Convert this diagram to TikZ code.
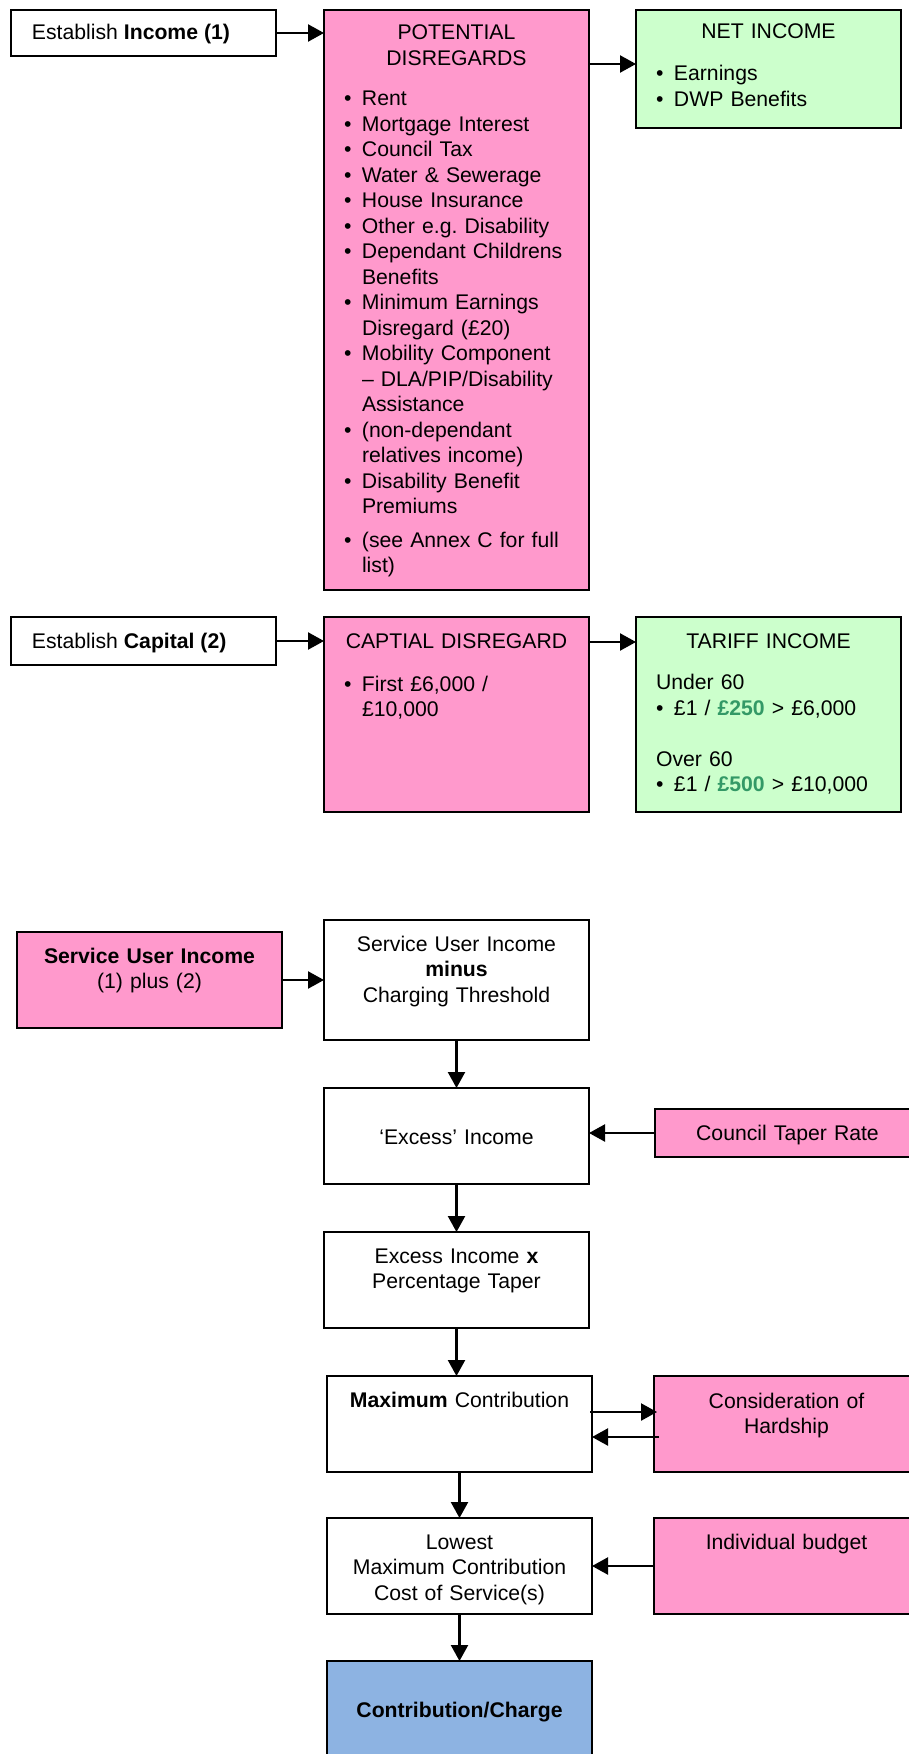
\documentclass[tikz,border=0pt]{standalone}
\usepackage{fontspec}
\setmainfont{Liberation Sans}
\usetikzlibrary{arrows.meta,calc}
\definecolor{pinkc}{HTML}{FF99CC}
\definecolor{greenc}{HTML}{CCFFCC}
\definecolor{bluec}{HTML}{8DB3E2}
\definecolor{amt}{HTML}{339966}
\frenchspacing
\newcommand{\fitem}[1]{\hangindent=9pt\hangafter=1\makebox[9pt][l]{\textbullet}#1}
\newcommand{\bitem}[1]{\par\fitem{#1}}
\begin{document}
\begin{tikzpicture}[x=0.5pt,y=-0.5pt,
  box/.style={draw=black,line width=0.9pt,rectangle,inner sep=0pt,outer sep=0pt,anchor=north west,minimum width=132.5pt},
  txt/.style={inner sep=0pt,outer sep=0pt,font=\fontsize{10.6}{12.75}\selectfont},
  ctxt/.style={txt,text width=130pt,align=center,anchor=base},
  ltxt/.style={txt,text width=125pt,align=left,anchor=base west},
  arr/.style={line width=1.15pt,-{Triangle[length=8pt,width=8.5pt]}}]
\useasboundingbox (0,0) rectangle (909,1754);
\clip (0,0) rectangle (909,1754);
\fill[white] (0,0) rectangle (909,1754);

% boxes
\node[box,minimum height=23pt] (inc) at (11,10) {};
\node[box,fill=pinkc,minimum height=290pt] (pd) at (324,10) {};
\node[box,fill=greenc,minimum height=59pt] (net) at (636,10) {};
\node[box,minimum height=24pt] (cap) at (11,617) {};
\node[box,fill=pinkc,minimum height=97.5pt] (cd) at (324,617) {};
\node[box,fill=greenc,minimum height=97.5pt] (tar) at (636,617) {};
\node[box,fill=pinkc,minimum height=48pt] (sui) at (17,932) {};
\node[box,minimum height=60pt] (suim) at (324,920) {};
\node[box,minimum height=48pt] (exc) at (324,1088) {};
\node[box,fill=pinkc,minimum height=24pt] (ctr) at (655,1109) {};
\node[box,minimum height=48pt] (exx) at (324,1232) {};
\node[box,minimum height=48pt] (max) at (327,1376) {};
\node[box,fill=pinkc,minimum height=48pt] (hard) at (654,1376) {};
\node[box,minimum height=48pt] (low) at (327,1518) {};
\node[box,fill=pinkc,minimum height=48pt] (ind) at (654,1518) {};
\node[box,fill=bluec,minimum height=50pt] (con) at (327,1661) {};

% texts
\node[txt,anchor=base west] (incT) at ($(inc.north west)+(21,30)$) {Establish \textbf{Income (1)}};
\node[ctxt] (pdT) at ($(pd.north)+(0,30)$) {POTENTIAL\\DISREGARDS};
\node[ltxt] (pdL) at ($(pd.north west)+(20,96)$) {%
\fitem{Rent}\bitem{Mortgage Interest}\bitem{Council Tax}\bitem{Water \& Sewerage}%
\bitem{House Insurance}\bitem{Other e.g. Disability}\bitem{Dependant Childrens\newline Benefits}%
\bitem{Minimum Earnings\newline Disregard (£20)}\bitem{Mobility Component\newline – DLA/PIP/Disability\newline Assistance}%
\bitem{(non-dependant\newline relatives income)}\bitem{Disability Benefit\newline Premiums}\par\vspace{4pt}%
\fitem{(see Annex C for full\newline list)}\par};
\node[ctxt] (netT) at ($(net.north)+(0,29)$) {NET INCOME};
\node[ltxt] (netL) at ($(net.north west)+(20,71)$) {\fitem{Earnings}\bitem{DWP Benefits}\par};

\node[txt,anchor=base west] (capT) at ($(cap.north west)+(21,31.5)$) {Establish \textbf{Capital (2)}};
\node[ctxt] (cdT) at ($(cd.north)+(0,31)$) {CAPTIAL DISREGARD};
\node[ltxt] (cdL) at ($(cd.north west)+(20,74)$) {\fitem{First £6,000 /\newline £10,000}\par};
\node[ctxt] (tarT) at ($(tar.north)+(0,31)$) {TARIFF INCOME};
\node[ltxt] (tarL) at ($(tar.north west)+(20,72.5)$) {Under 60%
\bitem{£1 / \textbf{\color{amt}£250} > £6,000}\par\vspace{12.75pt}%
Over 60\bitem{£1 / \textbf{\color{amt}£500} > £10,000}\par};

\node[ctxt] (suiT) at ($(sui.north)+(0,31)$) {\textbf{Service User Income}\\(1) plus (2)};
\node[ctxt] (suimT) at ($(suim.north)+(0,31)$) {Service User Income\\\textbf{minus}\\Charging Threshold};
\node[ctxt] (excT) at ($(exc.north)+(0,56)$) {‘Excess’ Income};
\node[ctxt] (ctrT) at ($(ctr.north)+(0,31)$) {Council Taper Rate};
\node[ctxt] (exxT) at ($(exx.north)+(0,31)$) {Excess Income \textbf{x}\\Percentage Taper};
\node[ctxt] (maxT) at ($(max.north)+(0,31)$) {\textbf{Maximum} Contribution};
\node[ctxt] (hardT) at ($(hard.north)+(0,32)$) {Consideration of\\Hardship};
\node[ctxt] (lowT) at ($(low.north)+(0,31)$) {Lowest\\Maximum Contribution\\Cost of Service(s)};
\node[ctxt] (indT) at ($(ind.north)+(0,31)$) {Individual budget};
\node[ctxt] (conT) at ($(con.north)+(0,56)$) {\textbf{Contribution/Charge}};

% connectors
\draw[arr] (inc.east) -- (inc.east -| pd.west);
\draw[arr] ($(pd.north east)+(0,54)$) -- ($(net.north west)+(0,54)$);
\draw[arr] (cap.east) -- (cap.east -| cd.west);
\draw[arr] ($(cd.north east)+(0,25)$) -- ($(tar.north west)+(0,25)$);
\draw[arr] (sui.east) -- (sui.east -| suim.west);
\draw[arr] (suim.south) -- (exc.north);
\draw[arr] (ctr.west) -- (ctr.west -| exc.east);
\draw[arr] (exc.south) -- (exx.north);
\draw[arr] (exx.south) -- (exx.south |- max.north);
\draw[arr] ($(max.north east)+(-2,36)$) -- ($(hard.north west)+(3,36)$);
\draw[arr] ($(hard.north west)+(5,61)$) -- ($(max.north east)+(0,61)$);
\draw[arr] (max.south) -- (low.north);
\draw[arr] (ind.west) -- (ind.west -| low.east);
\draw[arr] (low.south) -- (con.north);
\end{tikzpicture}
\end{document}
